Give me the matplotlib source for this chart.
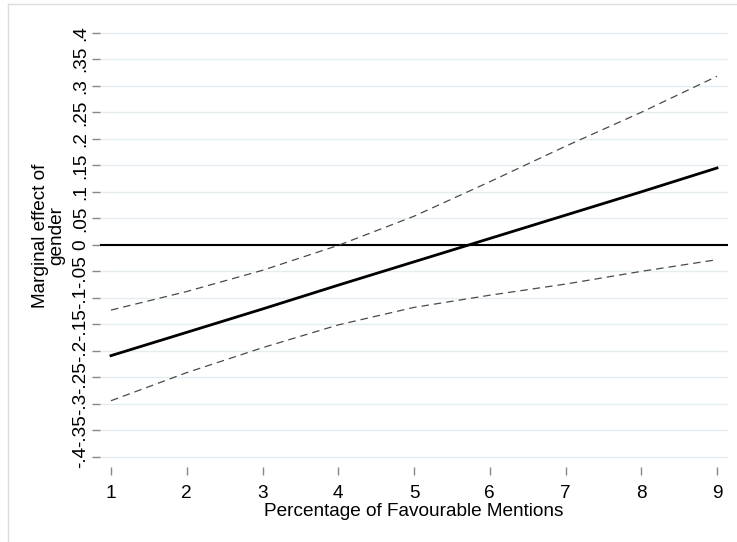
import matplotlib.pyplot as plt
from matplotlib.lines import Line2D

plt.rcParams['font.family'] = ['Liberation Sans', 'DejaVu Sans']

# marginal effect of gender with 95% confidence bounds
mentions = [1, 2, 3, 4, 5, 6, 7, 8, 9]
effect = [-0.209, -0.165, -0.121, -0.076, -0.032, 0.012, 0.056, 0.100, 0.145]
upper = [-0.123, -0.088, -0.048, -0.001, 0.054, 0.119, 0.186, 0.250, 0.318]
lower = [-0.294, -0.241, -0.194, -0.151, -0.118, -0.095, -0.074, -0.050, -0.028]

yticks = [-0.4, -0.35, -0.3, -0.25, -0.2, -0.15, -0.1, -0.05, 0,
          0.05, 0.1, 0.15, 0.2, 0.25, 0.3, 0.35, 0.4]
ytick_labels = ['-.4', '-.35', '-.3', '-.25', '-.2', '-.15', '-.1', '-.05', '0',
                '.05', '.1', '.15', '.2', '.25', '.3', '.35', '.4']

fig = plt.figure(figsize=(7.37, 5.42), dpi=100)
ax = fig.add_axes([0.1357, 0.1384, 0.8521, 0.8099])

for y in yticks:
    ax.axhline(y, color='#e6edf1', lw=1.0, zorder=0)

ax.axhline(0, color='black', lw=1.5, zorder=2)
ax.plot(mentions, effect, color='black', lw=2.0, zorder=3)
ax.plot(mentions, upper, color='#4a4a4a', lw=0.9, dashes=(6, 4), zorder=3)
ax.plot(mentions, lower, color='#4a4a4a', lw=0.9, dashes=(6, 4), zorder=3)

ax.set_xlim(0.855, 9.145)
ax.set_ylim(-0.419, 0.409)
ax.set_xticks(mentions)
ax.set_xticklabels([str(m) for m in mentions])
ax.set_yticks(yticks)
ax.set_yticklabels(ytick_labels, rotation=90, va='center')

for s in ax.spines.values():
    s.set_visible(False)
ax.tick_params(axis='both', direction='out', length=6, width=1, color='#888888',
               labelsize=13.7)
ax.tick_params(axis='x', pad=7)
ax.tick_params(axis='y', pad=2)

ax.set_xlabel('Percentage of Favourable Mentions', fontsize=13.7, labelpad=1)
fig.text(0.066, 0.5646, 'Marginal effect of\ngender', rotation=90,
         ha='center', va='center', multialignment='center',
         fontsize=13.7, linespacing=0.95)

# light outer frame of the graph region
fig.add_artist(Line2D([8 / 737, 8 / 737], [0, 1 - 4 / 542],
                      transform=fig.transFigure, color='#dcdcdc', lw=1))
fig.add_artist(Line2D([8 / 737, 1], [1 - 4 / 542, 1 - 4 / 542],
                      transform=fig.transFigure, color='#dcdcdc', lw=1))

fig.savefig('out.png', dpi=100, facecolor='white')
